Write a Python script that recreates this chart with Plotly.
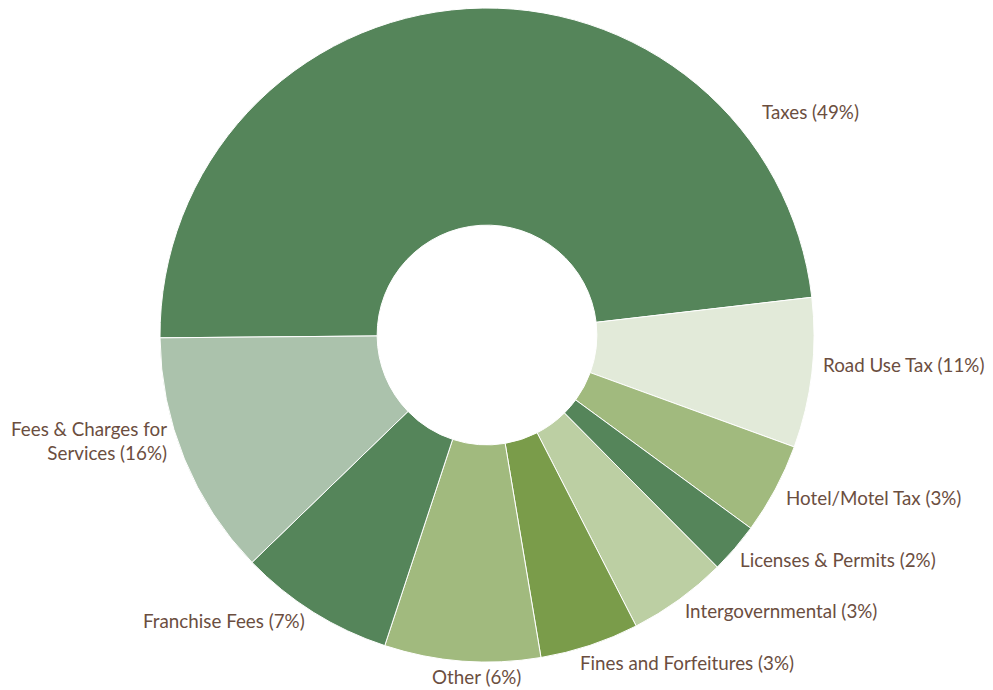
import plotly.graph_objects as go

# ---- data ----
categories = ["Taxes", "Road Use Tax", "Hotel/Motel Tax", "Licenses & Permits",
              "Intergovernmental", "Fines and Forfeitures", "Other",
              "Franchise Fees", "Fees & Charges for Services"]
values = [48.3, 7.4, 4.5, 2.5, 4.9, 4.9, 7.7, 7.7, 12.1]
pct_labels = ["49%", "11%", "3%", "2%", "3%", "3%", "6%", "7%", "16%"]
colors = ["#55855A", "#E2EAD9", "#A1BA7E", "#55855A", "#BCCFA3",
          "#7A9C4A", "#A1BA7E", "#55855A", "#ABC2AC"]

W, H = 993, 690
OFF = 8  # page body margin

fig = go.Figure(go.Pie(
    labels=categories,
    values=values,
    sort=False,
    direction="clockwise",
    rotation=269.5,
    hole=0.336,
    marker=dict(colors=colors, line=dict(color="white", width=1)),
    textinfo="none",
    hoverinfo="label+percent",
    showlegend=False,
    domain=dict(x=[0, 958 / W], y=[36 / H, 1]),
))

# label placement (screen pixel anchors: x, y, anchor)
label_pos = [
    (760, 112, "left"),
    (821, 364, "left"),
    (784, 497, "left"),
    (738, 559, "left"),
    (683, 610, "left"),
    (578, 662, "left"),
    (476, 676, "center"),
    (307, 620, "right"),
    (169, 440, "right"),
]
label_text = []
for c, p in zip(categories, pct_labels):
    if c == "Fees & Charges for Services":
        label_text.append(f"Fees & Charges for<br>Services ({p})")
    else:
        label_text.append(f"{c} ({p})")

annotations = []
for (px, py, anc), t in zip(label_pos, label_text):
    annotations.append(dict(
        x=(px - OFF) / W, y=1 - (py - OFF) / H, xref="paper", yref="paper",
        text=t, showarrow=False, xanchor=anc, yanchor="middle",
        align="right" if anc == "right" else "left",
        font=dict(family="Lato, sans-serif", size=18.8, color="#6B4E3F"),
    ))

fig.update_layout(
    width=W, height=H,
    margin=dict(l=0, r=0, t=0, b=0),
    paper_bgcolor="white", plot_bgcolor="white",
    annotations=annotations,
)

fig.write_html("out.html")
